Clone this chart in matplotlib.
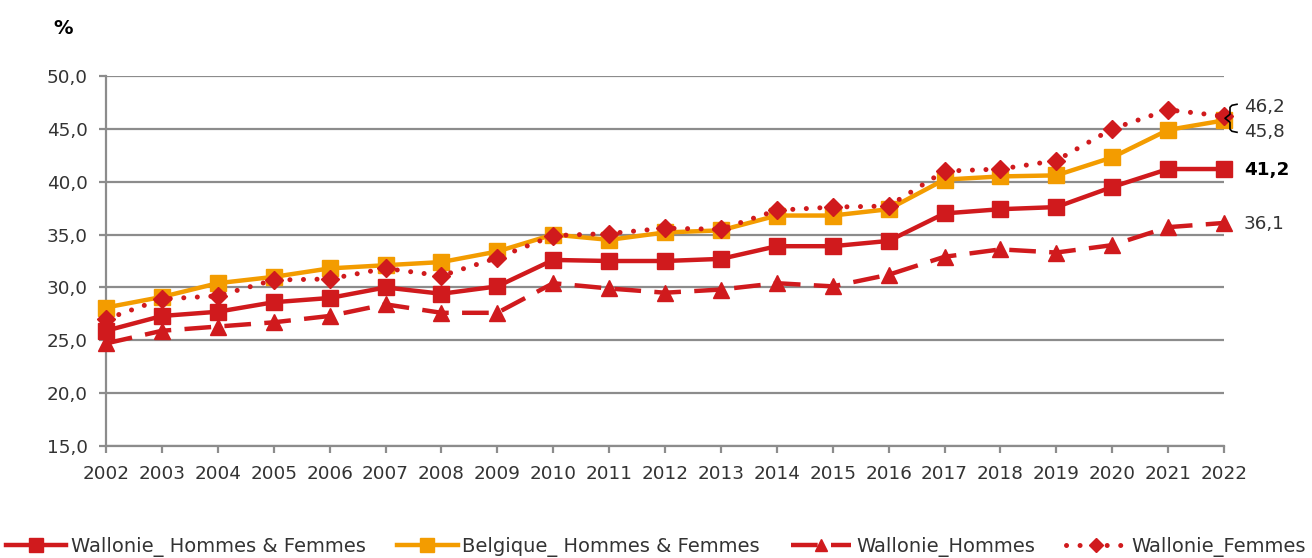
import numpy as np
import matplotlib
matplotlib.use("Agg")
import matplotlib.pyplot as plt

# ===============================================================================
# data

years = list(range(2002, 2023))

wal_hf = [25.9, 27.3, 27.7, 28.6, 29.0, 30.0, 29.4, 30.1, 32.6, 32.5, 32.5,
          32.7, 33.9, 33.9, 34.4, 37.0, 37.4, 37.6, 39.5, 41.2, 41.2]
bel_hf = [28.1, 29.1, 30.4, 31.0, 31.8, 32.1, 32.4, 33.4, 35.0, 34.5, 35.2,
          35.4, 36.8, 36.8, 37.4, 40.2, 40.5, 40.6, 42.3, 44.9, 45.8]
wal_h = [24.7, 25.9, 26.3, 26.7, 27.3, 28.4, 27.6, 27.6, 30.4, 29.9, 29.5,
         29.8, 30.4, 30.1, 31.2, 32.9, 33.6, 33.3, 34.0, 35.7, 36.1]
wal_f = [27.0, 28.9, 29.2, 30.7, 30.8, 31.8, 31.1, 32.8, 34.9, 35.1, 35.6,
         35.5, 37.3, 37.6, 37.7, 41.0, 41.2, 42.0, 45.0, 46.8, 46.2]

labels = ["Wallonie_ Hommes & Femmes", "Belgique_ Hommes & Femmes",
          "Wallonie_Hommes", "Wallonie_Femmes"]

# ===============================================================================

red = '#D01A1D'
orange = '#F39C00'
grey = '#8C8C8C'
txt = '#333333'

plt.rcParams['font.family'] = ['DejaVu Sans']

fig = plt.figure(figsize=(13.12, 5.58), dpi=100)
ax = fig.add_axes([106 / 1312, 112 / 558, (1224 - 106) / 1312, 370 / 558])

ax.set_xlim(2002, 2022)
ax.set_ylim(15, 50)

ax.plot(years, bel_hf, c=orange, lw=3.2, marker='s', ms=12, zorder=3,
        clip_on=False, label=labels[1])
ax.plot(years, wal_hf, c=red, lw=3.2, marker='s', ms=12, zorder=4,
        clip_on=False, label=labels[0])
ax.plot(years, wal_h, c=red, lw=3.2, ls=(0, (6, 3)), marker='^', ms=11,
        zorder=4, clip_on=False, label=labels[2])
ax.plot(years, wal_f, c=red, lw=3.6, ls=(0, (0.01, 2.7)), dash_capstyle='round',
        marker='D', ms=9.5, zorder=5, clip_on=False, label=labels[3])

# axes styling
yt = np.arange(15, 51, 5)
ax.set_yticks(yt)
ax.set_yticklabels([f"{v:.1f}".replace('.', ',') for v in yt])
ax.set_xticks(years)
ax.set_xticklabels([str(y) for y in years])
ax.grid(axis='y', color=grey, lw=1.6, zorder=0)
for s in ['top', 'right']:
    ax.spines[s].set_visible(False)
for s in ['left', 'bottom']:
    ax.spines[s].set_color(grey)
    ax.spines[s].set_linewidth(1.6)
ax.tick_params(axis='both', colors=grey, length=5, width=1.6, labelcolor=txt,
               labelsize=13.2)
ax.tick_params(axis='x', pad=9)
ax.tick_params(axis='y', pad=8)
ax.set_axisbelow(True)

fig.text(63 / 1312, 1 - 29 / 558, '%', ha='center', va='center',
         fontsize=14, fontweight='bold', color='black')

# ===============================================================================
# end labels

def fmt(v):
    return f"{v:.1f}".replace('.', ',')

x_end = years[-1]
ax.annotate(fmt(wal_f[-1]), (x_end, wal_f[-1]), xytext=(20, 9),
            textcoords='offset pixels', va='center', ha='left',
            fontsize=13.2, color=txt, annotation_clip=False)
ax.annotate(fmt(bel_hf[-1]), (x_end, bel_hf[-1]), xytext=(20, -12),
            textcoords='offset pixels', va='center', ha='left',
            fontsize=13.2, color=txt, annotation_clip=False)
ax.annotate(fmt(wal_hf[-1]), (x_end, wal_hf[-1]), xytext=(20, -1),
            textcoords='offset pixels', va='center', ha='left',
            fontsize=13.2, fontweight='bold', color='black', annotation_clip=False)
ax.annotate(fmt(wal_h[-1]), (x_end, wal_h[-1]), xytext=(20, -1),
            textcoords='offset pixels', va='center', ha='left',
            fontsize=13.2, color=txt, annotation_clip=False)

# curly bracket joining 46,2 and 45,8
xpx = 1118 / 20
ypx = 370 / 35
ymid = (wal_f[-1] + bel_hf[-1]) / 2
bx = np.array([13, 8, 6, 6, 1, 6, 6, 8, 13])
by = np.array([14, 13, 11, 4, 0, -4, -11, -13, -14])
ax.plot(x_end + bx / xpx, ymid + by / ypx, c='black', lw=1.2,
        clip_on=False, zorder=6)

# ===============================================================================

handles, labs = ax.get_legend_handles_labels()
order = [1, 0, 2, 3]
fig.legend([handles[i] for i in order], [labs[i] for i in order],
           loc='center', bbox_to_anchor=(0.5, 1 - 547 / 558), ncol=4,
           frameon=False, fontsize=14, handlelength=3.1, columnspacing=1.6,
           handletextpad=0.25, markerscale=0.8, labelcolor=txt)

fig.savefig('out.png', dpi=100)
plt.close()
